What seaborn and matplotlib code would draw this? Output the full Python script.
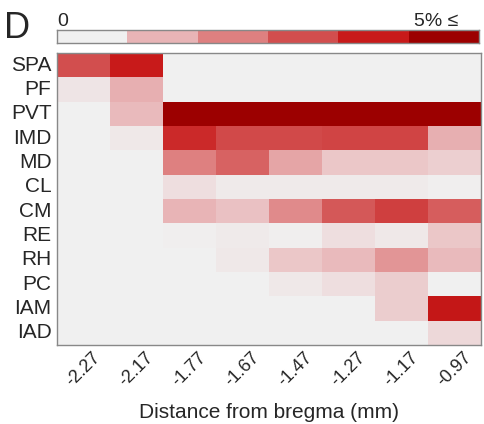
import numpy as np
import pandas as pd
import seaborn as sns
import matplotlib.pyplot as plt
from matplotlib.colors import LinearSegmentedColormap

sns.set_style("white")
plt.rcParams['font.family'] = ['Liberation Sans', 'DejaVu Sans']

# Labeled cell density, % (scale capped at 5)
regions = ["SPA", "PF", "PVT", "IMD", "MD", "CL", "CM", "RE", "RH", "PC", "IAM", "IAD"]
distances = ["-2.27", "-2.17", "-1.77", "-1.67", "-1.47", "-1.27", "-1.17", "-0.97"]

spa = [3.0, 4.0, 0, 0, 0, 0, 0, 0]
pf = [0.2, 1.1, 0, 0, 0, 0, 0, 0]
pvt = [0, 0.9, 5, 5, 5, 5, 5, 5]
imd = [0, 0.15, 3.7, 3.1, 3.1, 3.2, 3.2, 1.1]
md = [0, 0, 2.0, 2.6, 1.3, 0.7, 0.7, 0.55]
cl = [0, 0, 0.3, 0.1, 0.1, 0.1, 0.1, 0.05]
cm = [0, 0, 1.0, 0.8, 1.8, 2.8, 3.3, 2.7]
re = [0, 0, 0.05, 0.1, 0.05, 0.3, 0.15, 0.7]
rh = [0, 0, 0, 0.15, 0.7, 0.9, 1.6, 0.9]
pc = [0, 0, 0, 0, 0.15, 0.3, 0.6, 0]
iam = [0, 0, 0, 0, 0, 0, 0.6, 4.1]
iad = [0, 0, 0, 0, 0, 0, 0, 0.4]

levels = [0, 1, 2, 3, 4, 5]
level_colors = ["#f0f0f0", "#e8b4b6", "#de8080", "#d24e4e", "#c81a1a", "#9c0000"]

df = pd.DataFrame([spa, pf, pvt, imd, md, cl, cm, re, rh, pc, iam, iad],
                  index=regions, columns=distances)

cmap = LinearSegmentedColormap.from_list("reds", level_colors)

fig = plt.figure(figsize=(4.85, 4.24), dpi=100)
ax = fig.add_axes([0.1175, 0.186, 0.874, 0.689])
cax = fig.add_axes([0.1175, 0.899, 0.870, 0.031])

sns.heatmap(df, cmap=cmap, vmin=0, vmax=5, cbar=False, ax=ax)

# tick marks at the cell borders, labels at the cell centres
ax.set_xticks(np.arange(len(distances)) + 0.5)
ax.set_xticklabels(distances, rotation=45, ha='center', fontsize=13)
ax.set_yticks(np.arange(len(regions)) + 0.5)
ax.set_yticklabels(regions, rotation=0, fontsize=15)
ax.tick_params(which='major', length=0)
ax.tick_params(axis='x', which='major', pad=3)
ax.tick_params(axis='y', which='major', pad=4)
ax.set_xticks(np.arange(1, len(distances)), minor=True)
ax.set_yticks(np.arange(1, len(regions)), minor=True)
ax.tick_params(which='minor', direction='in', length=4, color='#888888',
               top=True, bottom=True, left=True, right=True)
ax.set_xlabel("Distance from bregma (mm)", fontsize=15, labelpad=9)
ax.set_ylabel("")
for s in ax.spines.values():
    s.set_visible(True)
    s.set_color('#888888')
    s.set_linewidth(1)

# discrete colour key on top
sns.heatmap(pd.DataFrame([levels]), cmap=cmap, vmin=0, vmax=5, cbar=False, ax=cax,
            xticklabels=False, yticklabels=False)
for s in cax.spines.values():
    s.set_visible(True)
    s.set_color('#888888')
    s.set_linewidth(1)

fig.text(0.1175, 0.939, "0", fontsize=14, ha='left', va='baseline')
fig.text(0.945, 0.939, "5% \u2264", fontsize=14, ha='right', va='baseline')
fig.text(0.008, 0.91, "D", fontsize=26, ha='left', va='baseline')

fig.savefig("out.png", dpi=100)
